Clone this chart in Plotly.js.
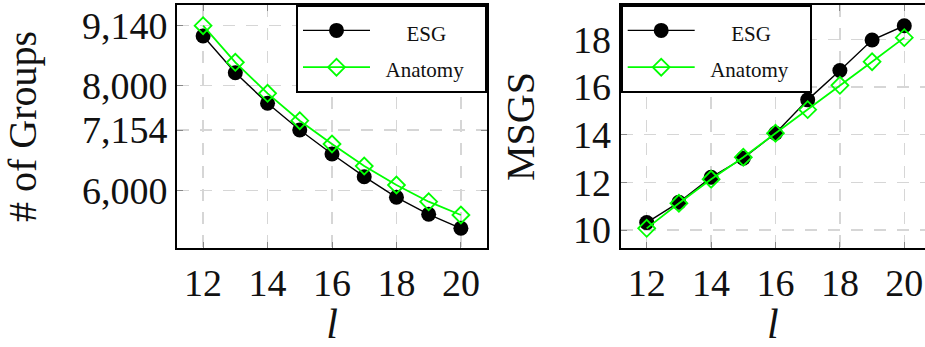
<!DOCTYPE html>
<html>
<head>
<meta charset="utf-8">
<script src="https://cdn.plot.ly/plotly-3.0.1.min.js"></script>
<style>html,body{margin:0;padding:0;background:#fff;}#chart{width:925px;height:347px;}</style>
</head>
<body>
<div id="chart"></div>
<script>
// ---- data ----
const lValues = [12, 13, 14, 15, 16, 17, 18, 19, 20];
const groupsESG = [8944, 8246, 7663, 7154, 6699, 6267, 5875, 5551, 5285];
const groupsAnatomy = [9140, 8443, 7853, 7332, 6889, 6470, 6109, 5791, 5538];
const msgsESG = [10.31, 11.16, 12.21, 13.01, 14.06, 15.46, 16.69, 17.97, 18.57];
const msgsAnatomy = [10.07, 11.12, 12.13, 13.05, 14.06, 15.05, 16.07, 17.06, 18.07];
const xTicks = [12, 14, 16, 18, 20];
const groupsTicks = [6000, 7154, 8000, 9140];
const msgsTicks = [10, 12, 14, 16, 18];
const seriesNames = ['ESG', 'Anatomy'];

const FONT = '"Liberation Serif", "Times New Roman", serif';
const GREEN = '#00ff00';
const NB = '\u00a0';

// legend label: text shown at 21px inside a taller legend row, padded so it sits centred like the original
function legendLabel(txt, before, after) {
  return '<span style="font-size:21px">' + NB.repeat(before) + txt + NB.repeat(after) + '</span>';
}

function esgTrace(y, xa, ya, leg) {
  return {x: lValues, y: y, xaxis: xa, yaxis: ya, name: legendLabel(seriesNames[0], 6, 0), legend: leg,
    mode: 'lines+markers', line: {color: '#000', width: 1.4},
    marker: {symbol: 'circle', size: 15, color: '#000'}};
}
function anaTrace(y, xa, ya, leg) {
  return {x: lValues, y: y, xaxis: xa, yaxis: ya, name: legendLabel(seriesNames[1], 2, 3), legend: leg,
    mode: 'lines+markers', line: {color: GREEN, width: 1.8},
    marker: {symbol: 'diamond-open', size: 13, color: GREEN, line: {color: GREEN, width: 1.8}}};
}

const data = [
  esgTrace(groupsESG, 'x', 'y', 'legend'),
  anaTrace(groupsAnatomy, 'x', 'y', 'legend'),
  esgTrace(msgsESG, 'x2', 'y2', 'legend2'),
  anaTrace(msgsAnatomy, 'x2', 'y2', 'legend2')
];

const axisCommon = {
  showgrid: true, gridcolor: '#d6d6d6', gridwidth: 1.3, griddash: '12px,11px',
  showline: true, linecolor: '#000', linewidth: 2,
  ticks: 'inside', ticklen: 6, tickcolor: '#888', tickwidth: 1,
  zeroline: false, tickfont: {family: FONT, size: 38, color: '#111'},
  automargin: false
};

const legendCommon = {
  bgcolor: '#fff', bordercolor: '#000', borderwidth: 2,
  font: {family: FONT, size: 26, color: '#111'},
  itemwidth: 67, traceorder: 'normal', yanchor: 'top', y: 1 - 5 / 347
};

const layout = {
  width: 925, height: 347,
  margin: {l: 0, r: 0, t: 0, b: 0},
  font: {family: FONT, color: '#111'},
  paper_bgcolor: '#fff', plot_bgcolor: '#fff',
  showlegend: true,
  xaxis: Object.assign({}, axisCommon, {
    domain: [177 / 925, 487 / 925], range: [11.19, 20.81], tickvals: xTicks, mirror: 'ticks', anchor: 'y',
    title: {text: '<i>l</i>', font: {family: FONT, size: 42, color: '#111'}, standoff: 24}
  }),
  yaxis: Object.assign({}, axisCommon, {
    domain: [1 - 248 / 347, 1 - 5 / 347], range: [4910, 9534], tickvals: groupsTicks, tickformat: ',d', mirror: 'ticks', anchor: 'x',
    title: {text: '# of Groups', font: {family: FONT, size: 40, color: '#111'}, standoff: 36}
  }),
  xaxis2: Object.assign({}, axisCommon, {
    domain: [620.7 / 925, 1], range: [11.193, 20.643], tickvals: xTicks, mirror: 'ticks', anchor: 'y2',
    title: {text: '<i>l</i>', font: {family: FONT, size: 42, color: '#111'}, standoff: 24}
  }),
  yaxis2: Object.assign({}, axisCommon, {
    domain: [1 - 248 / 347, 1 - 5 / 347], range: [9.245, 19.44], tickvals: msgsTicks, mirror: false, anchor: 'x2',
    title: {text: 'MSGS', font: {family: FONT, size: 40, color: '#111'}, standoff: 26}
  }),
  legend: Object.assign({}, legendCommon, {x: 487 / 925, xanchor: 'right'}),
  legend2: Object.assign({}, legendCommon, {x: 620.7 / 925, xanchor: 'left'})
};

Plotly.newPlot('chart', data, layout, {displayModeBar: false, staticPlot: true});
</script>
</body>
</html>
